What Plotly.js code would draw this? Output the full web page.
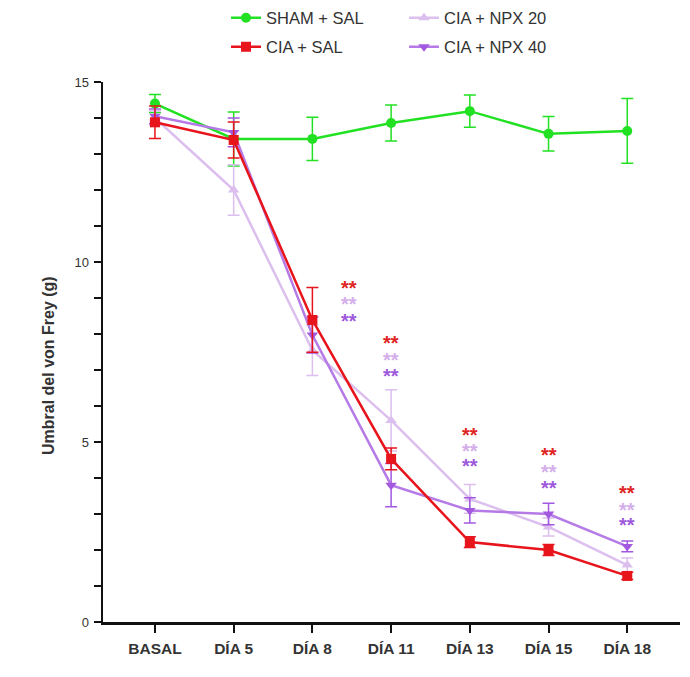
<!DOCTYPE html>
<html>
<head>
<meta charset="utf-8">
<script src="https://cdn.plot.ly/plotly-3.0.1.min.js"></script>
<style>html,body{margin:0;padding:0;background:#fff;}#chart{width:690px;height:677px;}</style>
</head>
<body>
<div id="chart"></div>
<script>
const categories = ['BASAL', 'DÍA 5', 'DÍA 8', 'DÍA 11', 'DÍA 13', 'DÍA 15', 'DÍA 18'];

const shamSal    = [14.40, 13.42, 13.42, 13.86, 14.19, 13.56, 13.64];
const shamSalErr = [0.25, 0.75, 0.60, 0.50, 0.45, 0.48, 0.90];
const ciaSal     = [13.88, 13.39, 8.39, 4.53, 2.22, 2.00, 1.28];
const ciaSalErr  = [0.45, 0.50, 0.90, 0.30, 0.15, 0.15, 0.10];
const npx20      = [14.00, 12.00, 7.55, 5.60, 3.42, 2.64, 1.58];
const npx20Err   = [0.20, 0.70, 0.70, 0.85, 0.40, 0.25, 0.20];
const npx40      = [14.05, 13.60, 7.97, 3.80, 3.10, 3.00, 2.10];
const npx40Err   = [0.20, 0.40, 0.50, 0.60, 0.35, 0.30, 0.15];

const seriesNames = ['SHAM + SAL', 'CIA + SAL', 'CIA + NPX 20', 'CIA + NPX 40'];
const yTitle = 'Umbral del von Frey (g)';

// significance marks "**" (x as category index, y in axis units)
const sigX      = [2.47, 3, 4, 5, 6];
const sigRed    = [9.33, 7.81, 5.25, 4.69, 3.64];
const sigNpx20  = [8.89, 7.33, 4.81, 4.22, 3.17];
const sigNpx40  = [8.42, 6.89, 4.39, 3.78, 2.75];

const yTickVals = [0,1,2,3,4,5,6,7,8,9,10,11,12,13,14,15];
const yTickText = yTickVals.map(v => (v % 5 === 0 ? String(v) : ''));

const cGreen = '#22e022', cRed = '#e8141c', cLav = '#dcbfee', cPur = '#a259e0';
const FONT = 'Arial, Liberation Sans, sans-serif';

function trace(name, y, err, color, symbol, legend, lineColor) {
  return {
    type: 'scatter', mode: 'lines+markers', name: name,
    x: categories, y: y,
    error_y: {type: 'data', array: err, visible: true, color: color, thickness: 1.5, width: 6},
    line: {color: lineColor || color, width: 2.5},
    marker: {color: color, symbol: symbol, size: 10},
    legend: legend
  };
}

const data = [
  trace(seriesNames[0], shamSal, shamSalErr, cGreen, 'circle', 'legend'),
  trace(seriesNames[2], npx20, npx20Err, cLav, 'triangle-up', 'legend3'),
  trace(seriesNames[3], npx40, npx40Err, cPur, 'triangle-down', 'legend4', '#b57ae6'),
  trace(seriesNames[1], ciaSal, ciaSalErr, cRed, 'square', 'legend2')
];

const annotations = [];
function addSig(ys, color) {
  ys.forEach((yv, i) => annotations.push({
    x: sigX[i], y: yv, xref: 'x', yref: 'y', text: '<b>**</b>', showarrow: false,
    font: {family: FONT, size: 20, color: color},
    xanchor: 'center', yanchor: 'middle', yshift: -2
  }));
}
addSig(sigRed, '#e02424');
addSig(sigNpx20, '#d4aeea');
addSig(sigNpx40, '#9e58dc');

annotations.push({
  xref: 'paper', yref: 'paper', x: (48 - 103) / 577, y: (622 - 366) / 540, xanchor: 'center', yanchor: 'middle',
  text: '<b>' + yTitle + '</b>', textangle: -90, showarrow: false,
  font: {family: FONT, size: 16, color: '#333'}
});

const legFont = {family: FONT, size: 16.5, color: '#333'};
function leg(x, y) {
  return {xref: 'container', yref: 'container', x: x, y: y, xanchor: 'left', yanchor: 'middle',
          font: legFont, bgcolor: 'rgba(0,0,0,0)', borderwidth: 0, itemwidth: 30};
}

const layout = {
  width: 690, height: 677,
  margin: {l: 103, r: 10, t: 82, b: 55, autoexpand: false},
  paper_bgcolor: '#fff', plot_bgcolor: '#fff',
  font: {family: FONT, color: '#333'},
  showlegend: true,
  legend:  leg(226/690, 1 - 18/677),
  legend2: leg(226/690, 1 - 47/677),
  legend3: leg(404/690, 1 - 18/677),
  legend4: leg(404/690, 1 - 47/677),
  xaxis: {
    type: 'category', range: [-0.66, 6.67], automargin: false,
    showline: true, linecolor: '#111', linewidth: 2.5,
    ticks: 'outside', ticklen: 8, tickwidth: 2, tickcolor: '#111',
    showgrid: false, zeroline: false, tickangle: 0, ticklabelstandoff: 3,
    tickfont: {family: FONT, size: 15.5, color: '#333', weight: 'bold'}
  },
  yaxis: {
    range: [0, 15], automargin: false,
    showline: true, linecolor: '#111', linewidth: 2.5,
    ticks: 'outside', ticklen: 7, tickwidth: 2, tickcolor: '#111',
    tickvals: yTickVals, ticktext: yTickText,
    showgrid: false, zeroline: false, ticklabelstandoff: 2,
    tickfont: {family: FONT, size: 13, color: '#333'}
  },
  annotations: annotations
};

Plotly.newPlot('chart', data, layout, {displayModeBar: false, staticPlot: true});
</script>
</body>
</html>
